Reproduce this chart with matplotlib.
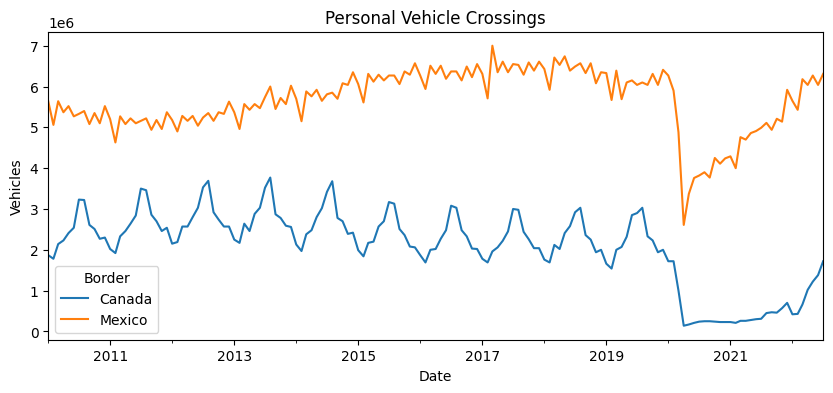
import numpy as np
import pandas as pd
import matplotlib
matplotlib.use("Agg")
import matplotlib.pyplot as plt
import matplotlib.dates as mdates

# monthly personal vehicle crossings (millions), Jan 2010 - Jul 2022
canada = [
    1.87, 1.78, 2.14, 2.23, 2.41, 2.54, 3.23, 3.22, 2.61, 2.51, 2.27, 2.30,  # 2010
    2.02, 1.92, 2.33, 2.46, 2.64, 2.84, 3.50, 3.46, 2.86, 2.70, 2.46, 2.54,  # 2011
    2.15, 2.19, 2.57, 2.57, 2.80, 3.03, 3.53, 3.69, 2.92, 2.74, 2.57, 2.57,  # 2012
    2.25, 2.17, 2.64, 2.46, 2.88, 3.03, 3.52, 3.77, 2.87, 2.78, 2.59, 2.56,  # 2013
    2.13, 1.97, 2.38, 2.48, 2.80, 3.02, 3.42, 3.68, 2.78, 2.70, 2.39, 2.42,  # 2014
    1.99, 1.84, 2.17, 2.20, 2.57, 2.70, 3.17, 3.13, 2.51, 2.36, 2.08, 2.06,  # 2015
    1.87, 1.69, 2.00, 2.02, 2.27, 2.48, 3.08, 3.03, 2.48, 2.33, 2.03, 2.02,  # 2016
    1.78, 1.69, 1.96, 2.06, 2.22, 2.45, 3.00, 2.98, 2.44, 2.26, 2.04, 2.04,  # 2017
    1.76, 1.69, 2.12, 2.02, 2.41, 2.58, 2.92, 3.03, 2.36, 2.25, 1.94, 2.00,  # 2018
    1.66, 1.54, 2.00, 2.07, 2.32, 2.85, 2.90, 3.03, 2.33, 2.23, 1.94, 2.00,  # 2019
    1.72, 1.72, 1.00, 0.14, 0.17, 0.21, 0.24, 0.25, 0.25, 0.24, 0.23, 0.23,  # 2020
    0.23, 0.21, 0.26, 0.26, 0.28, 0.30, 0.31, 0.45, 0.47, 0.46, 0.57, 0.70,  # 2021
    0.42, 0.43, 0.66, 1.02, 1.22, 1.38, 1.72,                                # 2022
]
mexico = [
    5.65, 5.06, 5.64, 5.37, 5.52, 5.27, 5.33, 5.40, 5.08, 5.35, 5.10, 5.52,
    5.20, 4.63, 5.27, 5.08, 5.22, 5.10, 5.16, 5.22, 4.94, 5.18, 4.96, 5.37,
    5.18, 4.90, 5.28, 5.16, 5.28, 5.04, 5.24, 5.35, 5.16, 5.37, 5.33, 5.63,
    5.37, 4.96, 5.57, 5.43, 5.57, 5.47, 5.74, 6.00, 5.45, 5.72, 5.57, 6.02,
    5.70, 5.15, 5.88, 5.76, 5.92, 5.65, 5.81, 5.85, 5.70, 6.08, 6.04, 6.35,
    6.06, 5.61, 6.31, 6.12, 6.29, 6.15, 6.27, 6.27, 6.06, 6.37, 6.29, 6.57,
    6.27, 5.94, 6.51, 6.31, 6.51, 6.19, 6.37, 6.37, 6.15, 6.49, 6.23, 6.55,
    6.31, 5.71, 7.00, 6.35, 6.61, 6.35, 6.55, 6.53, 6.29, 6.59, 6.39, 6.61,
    6.43, 5.92, 6.71, 6.53, 6.74, 6.39, 6.49, 6.57, 6.33, 6.57, 6.08, 6.35,
    6.33, 5.67, 6.39, 5.69, 6.10, 6.15, 6.04, 6.10, 6.04, 6.31, 6.04, 6.41,
    6.27, 5.90, 4.88, 2.61, 3.37, 3.76, 3.82, 3.90, 3.77, 4.25, 4.11, 4.24,
    4.29, 4.00, 4.76, 4.70, 4.86, 4.91, 4.99, 5.11, 4.94, 5.21, 5.14, 5.92,
    5.65, 5.43, 6.18, 6.04, 6.27, 6.04, 6.31,
]
dates = pd.date_range("2010-01-01", periods=len(canada), freq="MS")
major_years = [2011, 2013, 2015, 2017, 2019, 2021]

canada = np.array(canada) * 1e6
mexico = np.array(mexico) * 1e6

fig, ax = plt.subplots(figsize=(10, 4))
ax.plot(dates, canada, label="Canada")
ax.plot(dates, mexico, label="Mexico")

ax.set_xlim(dates[0], dates[-1])
ax.xaxis.set_major_locator(mdates.YearLocator(base=1, month=1, day=1))
ticks = [pd.Timestamp(f"{y}-01-01") for y in major_years]
ax.xaxis.set_major_locator(matplotlib.ticker.FixedLocator(mdates.date2num(ticks)))
ax.xaxis.set_major_formatter(mdates.DateFormatter("%Y"))
ax.xaxis.set_minor_locator(mdates.YearLocator())

ax.set_title("Personal Vehicle Crossings")
ax.set_xlabel("Date")
ax.set_ylabel("Vehicles")
ax.legend(title="Border", loc="lower left")

fig.savefig("out.png", dpi=100, bbox_inches="tight")
